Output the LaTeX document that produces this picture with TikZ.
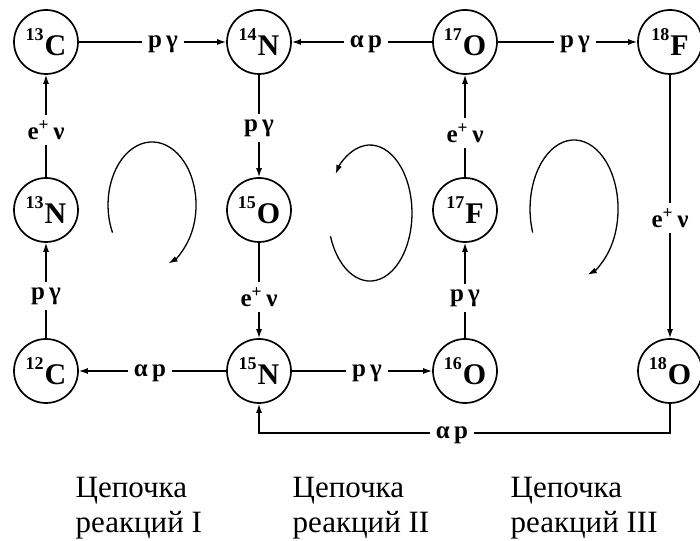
\documentclass[tikz,border=0pt]{standalone}
\usepackage{fontspec}
\setmainfont{Liberation Serif}
\usetikzlibrary{arrows.meta}

\tikzstyle{nucleus} = [
	draw = black,
	circle,
	line width = 1.7pt,
	minimum size = 64pt,
	inner sep = 0pt,
	font = \fontsize{30}{30}\selectfont\bfseries
	]
\tikzstyle{reac} = [
	inner sep = 5pt,
	font = \fontsize{25}{27}\selectfont\bfseries
	]
\tikzstyle{turn} = [
	line width = 1.3pt,
	-{Latex[length=9pt,width=6pt]}
	]
\tikzstyle{chaintext} = [
	align = left,
	inner sep = 0pt,
	font = \fontsize{31}{35}\selectfont
	]

\newcommand{\iso}[2]{\raisebox{15pt}{\fontsize{18}{18}\selectfont #1}\kern1pt#2}

\begin{document}
\begin{tikzpicture}[
	x = 1pt, y = 1pt,
	line width = 1.3pt,
	>={Latex[length=9pt,width=6pt]}
	]
	\useasboundingbox (0,0) rectangle (700,540);

	\node[nucleus] (c13) at (46,498) {\iso{13}{C}};
	\node[nucleus] (n14) at (259,498) {\iso{14}{N}};
	\node[nucleus] (o17) at (465,498) {\iso{17}{O}};
	\node[nucleus] (f18) at (670,498) {\iso{18}{F}};

	\node[nucleus] (n13) at (46,330) {\iso{13}{N}};
	\node[nucleus] (o15) at (259,330) {\iso{15}{O}};
	\node[nucleus] (f17) at (465,330) {\iso{17}{F}};

	\node[nucleus] (c12) at (46,169) {\iso{12}{C}};
	\node[nucleus] (n15) at (259,169) {\iso{15}{N}};
	\node[nucleus] (o16) at (465,169) {\iso{16}{O}};
	\node[nucleus] (o18) at (670,169) {\iso{18}{O}};

	\node[reac] (lpg1) at (163,496) {p\,γ};
	\node[reac] (lap1) at (366,496) {α\,p};
	\node[reac] (lpg2) at (575,496) {p\,γ};
	\node[reac] (lev1) at (46,410) {e\textsuperscript{+}\,ν};
	\node[reac] (lpg3) at (46,244) {p\,γ};
	\node[reac] (lpg4) at (259,412) {p\,γ};
	\node[reac] (lev2) at (259,243) {e\textsuperscript{+}\,ν};
	\node[reac] (lev3) at (465,407) {e\textsuperscript{+}\,ν};
	\node[reac] (lpg5) at (465,242) {p\,γ};
	\node[reac] (lev4) at (670,322) {e\textsuperscript{+}\,ν};
	\node[reac] (lap2) at (150,167) {α\,p};
	\node[reac] (lpg6) at (367,167) {p\,γ};
	\node[reac] (lap3) at (452,105) {α\,p};

	\coordinate (b1) at (o18 |- 0,107);
	\coordinate (b2) at (n15 |- 0,107);

	\draw (c13) -- (c13 -| lpg1.west);
	\draw[->] (n14 -| lpg1.east) -- (n14);
	\draw (o17) -- (o17 -| lap1.east);
	\draw[->] (n14 -| lap1.west) -- (n14);
	\draw (o17) -- (o17 -| lpg2.west);
	\draw[->] (f18 -| lpg2.east) -- (f18);

	\draw (n13) -- (lev1);
	\draw[->] (lev1) -- (c13);
	\draw (c12) -- (lpg3);
	\draw[->] (lpg3) -- (n13);

	\draw (n14) -- (lpg4);
	\draw[->] (lpg4) -- (o15);
	\draw (o15) -- (lev2);
	\draw[->] (lev2) -- (n15);

	\draw (f17) -- (lev3);
	\draw[->] (lev3) -- (o17);
	\draw (o16) -- (lpg5);
	\draw[->] (lpg5) -- (f17);

	\draw (f18) -- (lev4);
	\draw[->] (lev4) -- (o18);

	\draw (n15) -- (n15 -| lap2.east);
	\draw[->] (c12 -| lap2.west) -- (c12);
	\draw (n15) -- (n15 -| lpg6.west);
	\draw[->] (o16 -| lpg6.east) -- (o16);

	\draw (o18) -- (b1) -- (b1 -| lap3.east);
	\draw[->] (b2 -| lap3.west) -- (b2) -- (n15);

	\draw[turn] (112.5,307.4) arc[start angle=206, end angle=-68, x radius=44, y radius=63];
	\draw[turn] (330.5,303.7) arc[start angle=200, end angle=505, x radius=42, y radius=68];
	\draw[turn] (532.7,307.4) arc[start angle=200, end angle=-72, x radius=44, y radius=69];

	\node[chaintext, anchor=base west] (ch1) at (75,8) {Цепочка\\реакций I};
	\node[chaintext, anchor=base west] (ch2) at (292,8) {Цепочка\\реакций II};
	\node[chaintext, anchor=base west] (ch3) at (510,8) {Цепочка\\реакций III};
\end{tikzpicture}
\end{document}
